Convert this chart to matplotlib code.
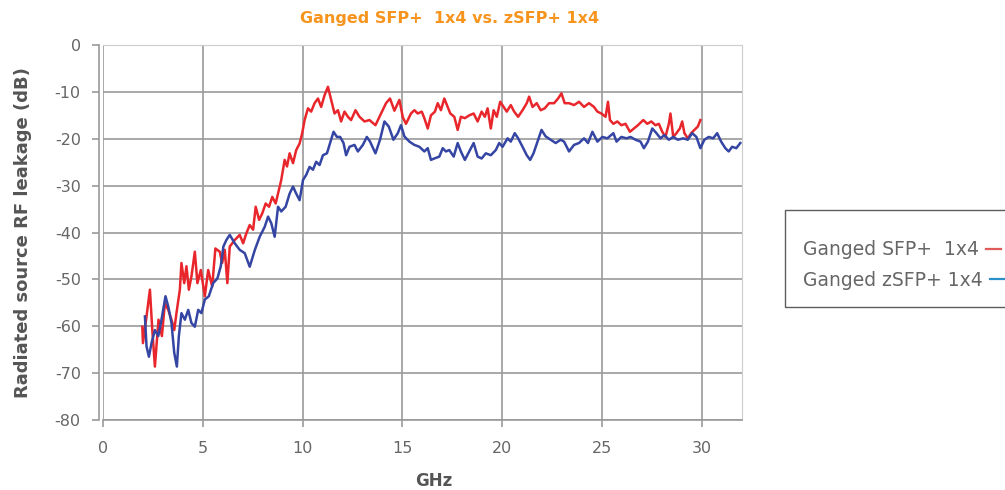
import matplotlib
matplotlib.use('Agg')
import matplotlib.pyplot as plt
from matplotlib.lines import Line2D

plt.rcParams['axes.unicode_minus'] = False

# Ganged SFP+ 1x4 (red)
sfp_ghz = [1.97, 2.0, 2.18, 2.35, 2.47, 2.6, 2.78, 2.95, 3.1, 3.27, 3.43, 3.57, 3.68, 3.85, 3.93,
           4.07, 4.18, 4.3, 4.43, 4.6, 4.73, 4.9, 5.1, 5.27, 5.47, 5.63, 5.85, 5.97, 6.1, 6.23,
           6.35, 6.6, 6.85, 7.02, 7.18, 7.35, 7.52, 7.65, 7.82, 7.98, 8.15, 8.32, 8.48, 8.65,
           8.77, 8.93, 9.1, 9.22, 9.35, 9.52, 9.68, 9.85, 9.98, 10.1, 10.27, 10.43, 10.6, 10.77,
           10.93, 11.1, 11.27, 11.43, 11.6, 11.77, 11.93, 12.1, 12.27, 12.43, 12.65, 12.85, 13.1,
           13.35, 13.65, 13.93, 14.18, 14.38, 14.6, 14.85, 15.02, 15.18, 15.43, 15.6, 15.77,
           15.97, 16.1, 16.27, 16.43, 16.63, 16.77, 16.93, 17.1, 17.23, 17.4, 17.6, 17.77, 17.93,
           18.13, 18.35, 18.57, 18.77, 18.97, 19.13, 19.27, 19.43, 19.57, 19.73, 19.9, 20.07,
           20.23, 20.43, 20.6, 20.8, 21.02, 21.23, 21.35, 21.52, 21.73, 21.93, 22.13, 22.35,
           22.6, 22.8, 22.97, 23.13, 23.35, 23.6, 23.85, 24.1, 24.35, 24.6, 24.77, 24.97, 25.18,
           25.3, 25.4, 25.57, 25.77, 25.97, 26.18, 26.4, 26.6, 26.8, 27.07, 27.27, 27.47, 27.68,
           27.85, 28.02, 28.18, 28.35, 28.43, 28.57, 28.73, 28.9, 29.02, 29.13, 29.3, 29.47,
           29.63, 29.8, 29.93]
sfp_db = [-60.1, -63.6, -57.9, -52.2, -60.8, -68.6, -58.6, -62.1, -55.1, -56.5, -58.6, -60.8, -57.2,
          -52.2, -46.5, -50.8, -47.2, -52.2, -49.4, -44.1, -50.8, -48, -53.6, -48, -51.5, -43.4,
          -44.1, -46.5, -43.7, -50.8, -43, -41.6, -40.5, -42.3, -40.2, -38.4, -39.4, -34.5, -37.3,
          -35.9, -33.8, -34.5, -32.4, -33.8, -31.7, -28.8, -24.5, -25.9, -23.1, -25.2, -22.4, -21,
          -18.8, -16, -13.5, -14.2, -12.4, -11.4, -13.2, -10.7, -8.9, -11.7, -14.6, -13.9, -16.3,
          -14.2, -15.3, -16, -13.9, -15.3, -16.3, -16, -17.1, -14.6, -12.4, -11.4, -14.0, -11.7,
          -15.4, -16.8, -14.6, -13.9, -14.6, -14.2, -15.6, -17.8, -15, -14.2, -12.4, -13.9, -11.4,
          -12.8, -14.6, -15.3, -18.1, -15.3, -15.6, -15.0, -14.6, -16.3, -14.2, -15.3, -13.5,
          -17.8, -13.9, -15.3, -12.1, -13.2, -14.2, -12.8, -14.2, -15.3, -13.9, -12.4, -11.0,
          -13.2, -12.4, -13.9, -13.5, -12.4, -12.4, -11.4, -10.3, -12.4, -12.4, -12.8, -12.1,
          -13.2, -12.4, -13.2, -14.2, -14.6, -15.3, -12.1, -16.0, -16.8, -16.3, -17.1, -16.8,
          -18.5, -17.8, -17.1, -16.0, -16.8, -16.3, -17.1, -16.8, -18.5, -19.6, -16.8, -14.6,
          -19.6, -18.8, -17.8, -16.3, -18.8, -19.9, -18.8, -18.1, -17.4, -16.0]

# Ganged zSFP+ 1x4 (blue)
zsfp_ghz = [2.1, 2.18, 2.3, 2.43, 2.6, 2.77, 2.93, 3.13, 3.27, 3.43, 3.57, 3.7, 3.8, 3.93, 4.1,
            4.27, 4.43, 4.6, 4.77, 4.93, 5.1, 5.3, 5.52, 5.73, 5.9, 6.03, 6.18, 6.35, 6.6, 6.85,
            7.1, 7.35, 7.6, 7.85, 8.1, 8.27, 8.43, 8.6, 8.77, 8.93, 9.15, 9.35, 9.52, 9.68, 9.85,
            10.02, 10.18, 10.35, 10.52, 10.68, 10.85, 11.02, 11.22, 11.38, 11.55, 11.72, 11.88,
            12.05, 12.18, 12.35, 12.6, 12.77, 13.02, 13.22, 13.38, 13.65, 13.88, 14.1, 14.32,
            14.55, 14.77, 14.93, 15.1, 15.35, 15.6, 15.85, 16.1, 16.27, 16.43, 16.6, 16.85,
            17.02, 17.18, 17.35, 17.57, 17.77, 17.93, 18.13, 18.35, 18.57, 18.77, 18.97, 19.18,
            19.43, 19.68, 19.85, 20.02, 20.27, 20.43, 20.63, 20.8, 21.02, 21.23, 21.4, 21.57,
            21.77, 21.97, 22.18, 22.43, 22.68, 22.93, 23.1, 23.35, 23.6, 23.85, 24.1, 24.3,
            24.52, 24.77, 25.02, 25.27, 25.57, 25.73, 25.97, 26.23, 26.43, 26.68, 26.93, 27.1,
            27.3, 27.52, 27.73, 27.93, 28.13, 28.35, 28.57, 28.8, 29.07, 29.3, 29.52, 29.73,
            29.93, 30.13, 30.35, 30.57, 30.77, 30.97, 31.18, 31.35, 31.52, 31.73, 31.93]
zsfp_db = [-57.9, -64.3, -66.5, -63.6, -60.8, -62.1, -58.6, -53.6, -55.8, -59.3, -65.7, -68.6,
           -62.1, -57.2, -58.6, -56.5, -59.3, -60.1, -56.5, -57.2, -54.3, -53.6, -50.8, -49.8,
           -47.2, -43, -41.6, -40.5, -42.3, -43.7, -44.4, -47.3, -43.8, -40.9, -38.8, -36.6, -38.0,
           -40.9, -34.5, -35.5, -34.5, -31.7, -30.2, -31.7, -33.1, -28.8, -27.7, -26, -26.6, -24.9,
           -25.6, -23.5, -23.1, -20.9, -18.5, -19.6, -19.6, -20.9, -23.5, -21.7, -21.3, -22.7,
           -21.3, -19.6, -20.6, -23.1, -20.2, -16.3, -17.4, -20.2, -18.8, -17.1, -19.5, -20.6,
           -21.3, -21.7, -22.7, -22.0, -24.5, -24.2, -23.8, -22.0, -22.7, -22.4, -23.8, -20.9,
           -22.7, -24.5, -22.7, -20.9, -23.8, -24.2, -23.1, -23.5, -22.4, -20.9, -21.7, -19.9,
           -20.6, -18.8, -19.9, -21.7, -23.5, -24.5, -23.1, -20.6, -18.1, -19.5, -20.2, -20.9,
           -20.2, -20.6, -22.7, -21.3, -20.9, -19.9, -20.9, -18.5, -20.6, -19.6, -19.9, -18.8,
           -20.6, -19.6, -19.9, -19.6, -20.2, -20.6, -22, -20.6, -17.8, -18.8, -19.9, -19.2,
           -20.2, -19.6, -20.2, -19.9, -20.2, -18.8, -19.6, -22, -20.2, -19.6, -19.9, -18.8,
           -20.6, -22, -22.7, -21.7, -22, -20.9]

labels = ['Ganged SFP+  1x4', 'Ganged zSFP+ 1x4']
x_ticks = [0, 5, 10, 15, 20, 25, 30]
y_ticks = [0, -10, -20, -30, -40, -50, -60, -70, -80]

fig = plt.figure(figsize=(10.05, 4.9), dpi=100)
ax = fig.add_axes([0.1025, 0.1429, 0.6355, 0.7651])

ax.plot(sfp_ghz, sfp_db, color='#e8262b', linewidth=1.8, zorder=3)
ax.plot(zsfp_ghz, zsfp_db, color='#3445a3', linewidth=1.8, zorder=3)

ax.set_xlim(0, 32)
ax.set_ylim(-80, 0)
ax.set_xticks(x_ticks)
ax.set_yticks(y_ticks)
ax.grid(True, color='#9a9a9a', linewidth=1.2)
for side in ['top', 'right']:
    ax.spines[side].set_color('#cccccc')
for side in ['left', 'bottom']:
    ax.spines[side].set_color('#999999')
    ax.spines[side].set_linewidth(1.2)
ax.spines['left'].set_position(('outward', 3))
ax.tick_params(axis='both', colors='#999999', length=5, width=1.2,
               labelcolor='#666666', labelsize=11.5)
ax.tick_params(axis='x', pad=10)
ax.tick_params(axis='y', pad=8)

ax.set_ylabel('Radiated source RF leakage (dB)', fontsize=13, fontweight='bold',
              color='#555555', labelpad=16)
fig.text(0.432, 0.018, 'GHz', ha='center', va='center', fontsize=12,
         fontweight='bold', color='#555555')
fig.text(0.447, 0.963, 'Ganged SFP+  1x4 vs. zSFP+ 1x4', ha='center', va='center',
         fontsize=11.5, fontweight='bold', color='#f7941d')

# legend: swatch after the text, text left aligned
handles = [Line2D([], [], color='#e05a5a', linewidth=1.6),
           Line2D([], [], color='#2b8fc8', linewidth=1.6)]
leg = fig.legend(handles, labels, loc='upper left', bbox_to_anchor=(0.781, 0.571),
                 markerfirst=False, fontsize=13.5, frameon=True, fancybox=False,
                 edgecolor='#333333', handlelength=0.8, handletextpad=0.4,
                 borderpad=0.95, labelspacing=0.6, borderaxespad=0,
                 title=' ', title_fontsize=1)
leg.get_frame().set_linewidth(1.0)
for col in leg._legend_handle_box.get_children():
    col.align = 'left'
for t in leg.get_texts():
    t.set_color('#666666')

plt.savefig('out.png', dpi=100)
plt.close()
